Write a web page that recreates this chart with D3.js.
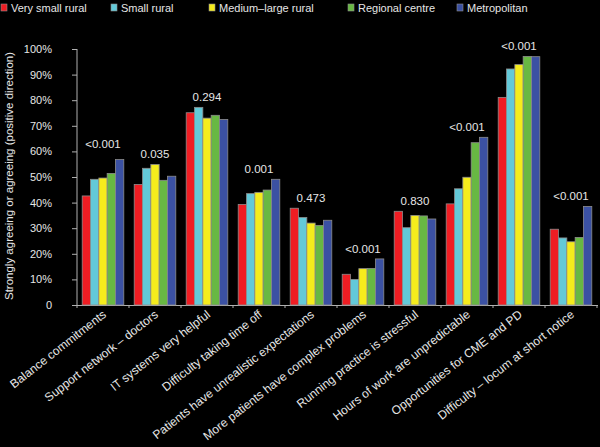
<!DOCTYPE html>
<html>
<head>
<meta charset="utf-8">
<script src="https://cdn.jsdelivr.net/npm/d3@7"></script>
<style>
  body { margin: 0; background: #000; }
  svg { display: block; background: #000; font-family: "Liberation Sans", Arial, sans-serif; }
  .axis path, .axis line { stroke: #b0b0b0; }
  .axis text { fill: #e6e6e6; font-size: 11px; }
</style>
</head>
<body>
<svg id="chart" width="600" height="447"></svg>
<script>
// categories along the x axis
const categories = [
  "Balance commitments",
  "Support network \u2013 doctors",
  "IT systems very helpful",
  "Difficulty taking time off",
  "Patients have unrealistic expectations",
  "More patients have complex problems",
  "Running practice is stressful",
  "Hours of work are unpredictable",
  "Opportunities for CME and PD",
  "Difficulty \u2013 locum at short notice"
];

const seriesNames = ["Very small rural", "Small rural", "Medium\u2013large rural", "Regional centre", "Metropolitan"];
const seriesColors = ["#ee1d23", "#63c9d8", "#f5ec1c", "#68b843", "#3b51a3"];

// percentages, one array per series
const verySmallRural = [42.6, 47.1, 75.1, 39.3, 37.8, 12.0, 36.6, 39.5, 81.1, 29.6];
const smallRural     = [49.1, 53.4, 77.2, 43.5, 34.2, 10.0, 30.2, 45.4, 92.2, 26.2];
const mediumLarge    = [49.6, 54.9, 73.0, 44.0, 32.0, 14.2, 35.0, 49.9, 93.9, 24.7];
const regional       = [51.4, 48.7, 74.1, 44.9, 31.1, 14.3, 34.8, 63.4, 97.1, 26.4];
const metropolitan   = [56.8, 50.3, 72.5, 49.1, 33.1, 18.0, 33.6, 65.5, 97.0, 38.5];

const pValues = ["<0.001", "0.035", "0.294", "0.001", "0.473", "<0.001", "0.830", "<0.001", "<0.001", "<0.001"];

const yTicks = [0, 10, 20, 30, 40, 50, 60, 70, 80, 90, 100];

const allSeries = [verySmallRural, smallRural, mediumLarge, regional, metropolitan];

let svg = d3.select('#chart');

let xScale = d3.scaleBand()
    .domain(categories)
    .range([77, 597])
    .paddingInner(0.2)
    .paddingOuter(0.1);

let subScale = d3.scaleBand()
    .domain(d3.range(seriesNames.length))
    .range([0, xScale.bandwidth()]);

let yScale = d3.scaleLinear()
    .domain([0, 100])
    .range([305, 49]);

// y axis
let yAxis = d3.axisLeft(yScale)
    .tickValues(yTicks)
    .tickSize(5)
    .tickPadding(20)
    .tickFormat((d) => d === 0 ? "0" : d + "%");

svg.append('g')
    .attr('class', 'axis')
    .attr('transform', 'translate(77,0)')
    .call(yAxis)
    .call(g => g.select('.domain').attr('d', 'M0,49V305'));

// x axis line and group boundary ticks
let step = xScale.step();
let boundaries = d3.range(categories.length + 1).map((i) => xScale(categories[0]) - step * 0.1 + i * step);

svg.append('line')
    .attr('x1', 72).attr('x2', 598)
    .attr('y1', 305.5).attr('y2', 305.5)
    .attr('stroke', '#b0b0b0');

svg.selectAll('.xtick')
    .data(boundaries)
    .enter()
    .append('line')
    .attr('class', 'xtick')
    .attr('x1', (d) => d).attr('x2', (d) => d)
    .attr('y1', 305).attr('y2', 308)
    .attr('stroke', '#b0b0b0');

// bars
let groups = svg.selectAll('.group')
    .data(categories)
    .enter()
    .append('g')
    .attr('class', 'group')
    .attr('transform', (d) => `translate(${xScale(d)},0)`);

groups.selectAll('rect')
    .data((d, i) => allSeries.map((s, j) => ({ s: j, v: s[i] })))
    .enter()
    .append('rect')
    .attr('x', (d) => subScale(d.s))
    .attr('y', (d) => yScale(d.v))
    .attr('width', subScale.bandwidth())
    .attr('height', (d) => yScale(0) - yScale(d.v))
    .attr('fill', (d) => seriesColors[d.s])
    .attr('stroke', '#8c8c8c')
    .attr('stroke-width', 0.8);

// p-value labels above each group
svg.selectAll('.pval')
    .data(categories)
    .enter()
    .append('text')
    .attr('class', 'pval')
    .attr('x', (d) => xScale(d) + xScale.bandwidth() / 2)
    .attr('y', (d, i) => yScale(d3.max(allSeries, (s) => s[i])) - (i === 0 ? 12 : 6))
    .attr('text-anchor', 'middle')
    .attr('font-size', '11.5px')
    .attr('fill', '#e6e6e6')
    .text((d, i) => pValues[i]);

// rotated category labels
svg.selectAll('.xlabel')
    .data(categories)
    .enter()
    .append('text')
    .attr('class', 'xlabel')
    .attr('text-anchor', 'end')
    .attr('font-size', '12px')
    .attr('fill', '#e6e6e6')
    .attr('transform', (d) => `translate(${xScale(d) + xScale.bandwidth() / 2 + 4},316) rotate(-38)`)
    .text((d) => d);

// y axis title
svg.append('text')
    .attr('transform', 'translate(13,176) rotate(-90)')
    .attr('text-anchor', 'middle')
    .attr('font-size', '11.5px')
    .attr('fill', '#e6e6e6')
    .text('Strongly agreeing or agreeing (positive direction)');

// legend
let legendX = [1, 111, 209, 348, 457];
let legend = svg.selectAll('.legend')
    .data(seriesNames)
    .enter()
    .append('g')
    .attr('class', 'legend')
    .attr('transform', (d, i) => `translate(${legendX[i]},0)`);

legend.append('rect')
    .attr('x', 0).attr('y', 4)
    .attr('width', 6).attr('height', 7)
    .attr('fill', (d, i) => seriesColors[i])
    .attr('stroke', '#8c8c8c')
    .attr('stroke-width', 0.6);

legend.append('text')
    .attr('x', 10).attr('y', 12)
    .attr('font-size', '11px')
    .attr('fill', '#e6e6e6')
    .text((d) => d);
</script>
</body>
</html>
